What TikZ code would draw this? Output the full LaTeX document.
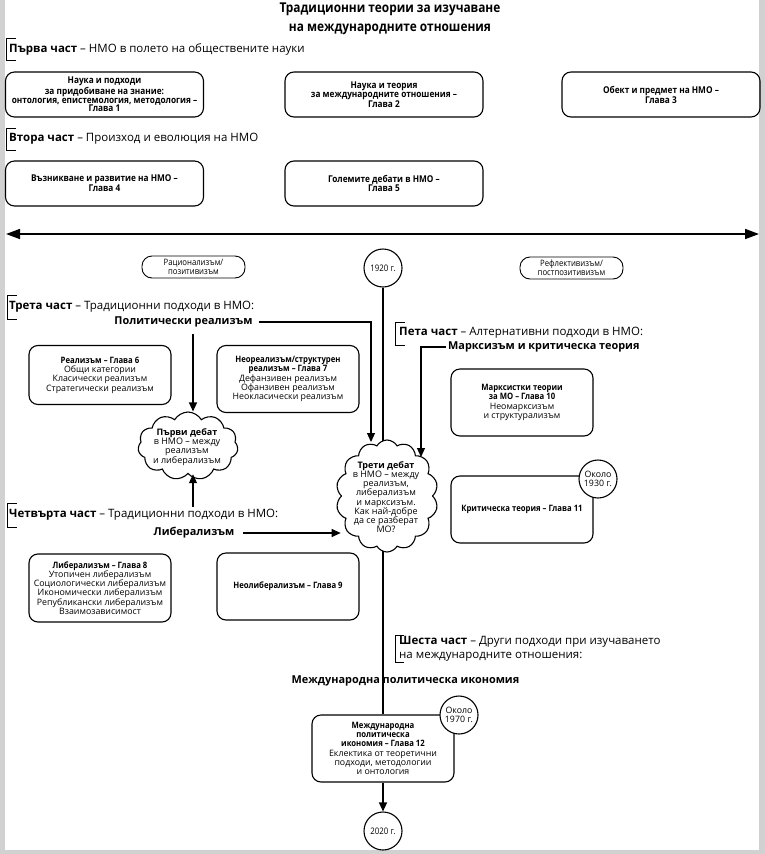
\documentclass[tikz,border=0pt]{standalone}
\usepackage{fontspec}
\setmainfont{Open Sans}
\newfontfamily\cnd[FakeStretch=0.88]{Open Sans}
\usetikzlibrary{shapes.symbols,arrows.meta,backgrounds}
\newcommand\hd[1]{{\cnd\bfseries #1}}
\begin{document}
\begin{tikzpicture}[x=1pt,y=-1pt, every node/.style={inner sep=0pt},
 rbox/.style={draw, line width=1.1pt, rounded corners=9pt, align=center, inner sep=0pt},
 toprow/.style={rbox, minimum width=198pt, minimum height=45pt, font=\cnd\bfseries\fontsize{9.4}{8.8}\selectfont},
 chbox/.style={rbox, minimum width=142pt, minimum height=67pt, font=\fontsize{8.8}{9.3}\selectfont},
 oval/.style={draw, line width=0.9pt, rounded corners=10pt, minimum width=103pt, minimum height=22pt, align=center, font=\cnd\fontsize{8.8}{8.8}\selectfont},
 yearc/.style={draw, circle, line width=1.1pt, minimum size=38pt, align=center, fill=white, font=\fontsize{8.8}{9.5}\selectfont},
 cloudn/.style={draw, cloud, cloud ignores aspect, cloud puffs=11, cloud puff arc=120, line width=1.1pt, fill=white},
 cloudtxt/.style={align=center, font=\fontsize{9}{9.2}\selectfont},
 sect/.style={anchor=west, font=\fontsize{11.5}{14}\selectfont},
 boldt/.style={font=\bfseries\fontsize{10.9}{14}\selectfont},
 arr/.style={line width=1.1pt, -{Triangle[length=9pt,width=8pt]}},
 conn/.style={line width=1.1pt},
 brk/.style={line width=1pt}]
\begin{pgfonlayer}{background}
\fill[black!18] (0,0) rectangle (765,854);
\fill[white] (5,0) rectangle (759,850);
\end{pgfonlayer}
\useasboundingbox (0,0) rectangle (765,854);

% title
\node[font=\cnd\bfseries\fontsize{13.5}{19}\selectfont, align=center] (title) at (390,19) {Традиционни теории за изучаване\\на международните отношения};

% part 1 and 2
\node[sect] (s1) at (9,49) {\textbf{Първа част} – НМО в полето на обществените науки};
\draw[brk] (16,38) -- (6,38) -- (6,60) -- (16,60);
\node[toprow] (b1) at (104.5,94.5) {Наука и подходи\\за придобиване на знание:\\онтология, епистемология, методология –\\Глава 1};
\node[toprow] (b2) at (384,94.5) {Наука и теория\\за международните отношения –\\Глава 2};
\node[toprow] (b3) at (661,94.5) {Обект и предмет на НМО –\\Глава 3};

\node[sect] (s2) at (9,139) {\textbf{Втора част} – Произход и еволюция на НМО};
\draw[brk] (16,128) -- (6,128) -- (6,150) -- (16,150);
\node[toprow] (b4) at (104.5,183.5) {Възникване и развитие на НМО –\\Глава 4};
\node[toprow] (b5) at (384,183.5) {Големите дебати в НМО –\\Глава 5};

% axis
\coordinate (axL) at (6,234);
\coordinate (axR) at (759,234);
\draw[line width=1.6pt, {Triangle[length=14pt,width=10pt]}-{Triangle[length=14pt,width=10pt]}] (axL) -- (axR);

\node[oval] (rat) at (193.5,267) {Рационализъм/\\позитивизъм};
\node[yearc, font=\cnd\fontsize{9}{9.5}\selectfont] (y1920) at (383,268) {1920 г.};
\node[oval] (ref) at (571.5,268) {Рефлективизъм/\\постпозитивизъм};

% part 3
\node[sect] (s3) at (9,307) {\textbf{Трета част} – Традиционни подходи в НМО:};
\draw[brk] (17,295) -- (7,295) -- (7,319) -- (17,319);
\node[boldt] (polreal) at (183.5,322) {Политически реализъм};
\node[chbox, minimum height=59pt] (b6) at (100,375) {\hd{Реализъм – Глава 6}\\Общи категории\\Класически реализъм\\Стратегически реализъм};
\node[chbox] (b7) at (288,379) {\hd{Неореализъм/структурен}\\\hd{реализъм – Глава 7}\\Дефанзивен реализъм\\Офанзивен реализъм\\Неокласически реализъм};

\node[cloudn, cloud puffs=11, minimum width=100pt, minimum height=68pt] (d1) at (188,446) {};
\node[cloudtxt] (d1t) at (187,447) {\textbf{Първи дебат}\\в НМО – между\\реализъм\\и либерализъм};

% part 4
\node[sect] (s4) at (9,515) {\textbf{Четвърта част} – Традиционни подходи в НМО:};
\draw[brk] (17,503) -- (7,503) -- (7,527) -- (17,527);
\node[boldt] (libt) at (194,533) {Либерализъм};
\node[chbox, minimum height=68pt] (b8) at (100,588) {\hd{Либерализъм – Глава 8}\\Утопичен либерализъм\\Социологически либерализъм\\Икономически либерализъм\\Републикански либерализъм\\Взаимозависимост};
\node[chbox] (b9) at (288,586.5) {\hd{Неолиберализъм – Глава 9}};

% part 5
\node[sect] (s5) at (399,333) {\textbf{Пета част} – Алтернативни подходи в НМО:};
\draw[brk] (405,322) -- (395,322) -- (395,345) -- (405,345);
\node[boldt, anchor=west] (marx) at (448,347) {Марксизъм и критическа теория};
\node[chbox] (b10) at (522,402.5) {\hd{Марксистки теории}\\\hd{за МО – Глава 10}\\Неомарксизъм\\и структурализъм};
\node[chbox] (b11) at (522,509.5) {\hd{Критическа теория – Глава 11}};
\node[yearc] (y1930) at (598,479) {Около\\1930 г.};

% part 6
\node[sect, align=left, font=\fontsize{11.5}{14.5}\selectfont] (s6) at (399,649) {\textbf{Шеста част} – Други подходи при изучаването\\на международните отношения:};
\draw[brk] (404,635) -- (395,635) -- (395,662) -- (404,662);
\node[boldt] (ipe) at (405.5,681) {Международна политическа икономия};
\node[chbox] (b12) at (383,748.5) {\hd{Международна}\\\hd{политическа}\\\hd{икономия – Глава 12}\\Еклектика от теоретични\\подходи, методологии\\и онтология};
\node[yearc] (y1970) at (459,715) {Около\\1970 г.};
\node[yearc, font=\cnd\fontsize{9}{9.5}\selectfont] (y2020) at (383,831) {2020 г.};

% cloud 3
\node[cloudn, cloud puffs=14, minimum width=102pt, minimum height=112pt] (d3) at (387,496) {};
\node[cloudtxt] (d3t) at (386,497) {\textbf{Трети дебат}\\в НМО – между\\реализъм,\\либерализъм\\и марксизъм.\\Как най-добре\\да се разберат\\МО?};

% connectors
\begin{pgfonlayer}{background}
\draw[conn] (y1920) -- (b12);
\end{pgfonlayer}
\coordinate (t1) at (371,442);
\draw[arr] ([xshift=6pt]polreal.east) -| (t1);
\coordinate (p1) at (193,334);
\draw[arr] (p1) -- (p1 |- d1.north);
\coordinate (p3) at (193,507);
\draw[arr] (p3) -- (p3 |- d1.south);
\draw[arr] ([xshift=9pt]libt.east) -- (libt.east -| d3.west);
\coordinate (t2) at (421,457);
\draw[arr] ([xshift=-2pt]marx.west) -| (t2);
\draw[arr] (b12) -- (y2020);
\end{tikzpicture}
\end{document}
